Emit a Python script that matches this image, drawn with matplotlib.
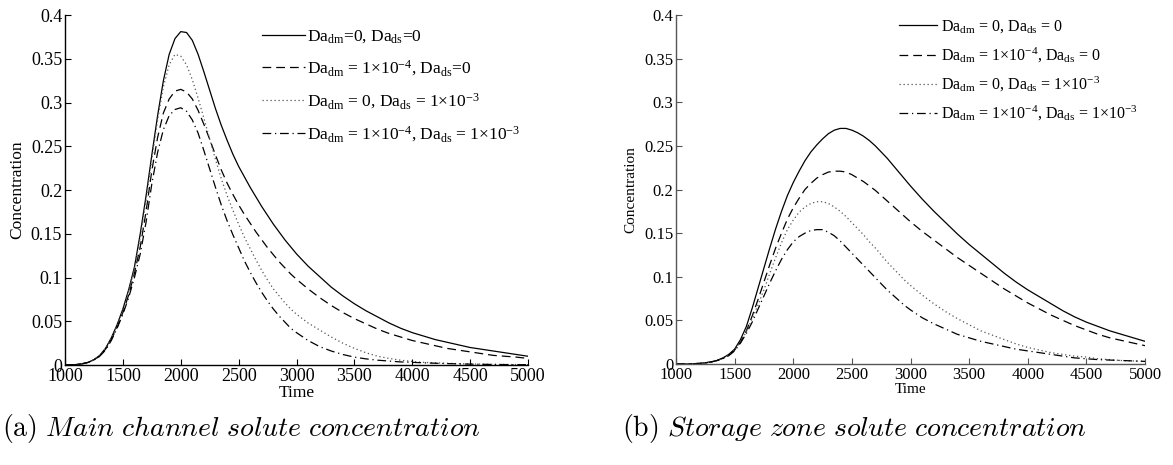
import matplotlib
matplotlib.use("Agg")
import matplotlib.pyplot as plt

# ---------------- data ----------------
time = list(range(1000, 3000, 50)) + list(range(3000, 5001, 100))

# (a) main channel
main_none = [0.0, 0.0002, 0.0006, 0.0015, 0.003, 0.006, 0.011, 0.019, 0.031, 0.046,
             0.064, 0.086, 0.112, 0.150, 0.193, 0.240, 0.285, 0.325, 0.355, 0.373,
             0.381, 0.380, 0.371, 0.355, 0.335, 0.314, 0.293, 0.274, 0.257, 0.241,
             0.227, 0.215, 0.203, 0.192, 0.181, 0.171, 0.161, 0.152, 0.143, 0.135,
             0.127, 0.113, 0.101, 0.089, 0.079, 0.070, 0.062, 0.055, 0.048, 0.042,
             0.037, 0.033, 0.029, 0.026, 0.023, 0.020, 0.018, 0.016, 0.014, 0.012, 0.010]
main_dm = [0.0, 0.0002, 0.0006, 0.0014, 0.003, 0.006, 0.010, 0.018, 0.029, 0.043,
           0.060, 0.080, 0.105, 0.135, 0.175, 0.222, 0.260, 0.288, 0.304, 0.313,
           0.315, 0.312, 0.304, 0.291, 0.275, 0.258, 0.240, 0.223, 0.208, 0.195,
           0.183, 0.172, 0.162, 0.152, 0.143, 0.134, 0.126, 0.118, 0.111, 0.104,
           0.098, 0.087, 0.077, 0.068, 0.060, 0.053, 0.047, 0.041, 0.036, 0.032,
           0.028, 0.025, 0.022, 0.019, 0.017, 0.015, 0.013, 0.011, 0.010, 0.009, 0.0075]
main_ds = [0.0, 0.0002, 0.0006, 0.0015, 0.003, 0.006, 0.011, 0.019, 0.030, 0.045,
           0.063, 0.084, 0.110, 0.146, 0.188, 0.235, 0.280, 0.318, 0.343, 0.355,
           0.353, 0.343, 0.326, 0.305, 0.282, 0.258, 0.235, 0.213, 0.194, 0.177,
           0.161, 0.146, 0.133, 0.120, 0.108, 0.097, 0.087, 0.079, 0.071, 0.064,
           0.058, 0.048, 0.040, 0.032, 0.025, 0.019, 0.014, 0.010, 0.0075, 0.0055,
           0.004, 0.003, 0.0025, 0.002, 0.0015, 0.0012, 0.001, 0.0008, 0.0006, 0.0005, 0.0004]
main_both = [0.0, 0.0002, 0.0006, 0.0014, 0.003, 0.006, 0.010, 0.017, 0.028, 0.042,
             0.058, 0.077, 0.100, 0.127, 0.163, 0.207, 0.243, 0.269, 0.285, 0.292,
             0.294, 0.290, 0.280, 0.265, 0.245, 0.224, 0.203, 0.183, 0.165, 0.149,
             0.134, 0.119, 0.106, 0.094, 0.083, 0.073, 0.064, 0.056, 0.049, 0.042,
             0.037, 0.028, 0.021, 0.016, 0.012, 0.009, 0.007, 0.0055, 0.0045, 0.0035,
             0.003, 0.0025, 0.002, 0.0016, 0.0013, 0.001, 0.0008, 0.0006, 0.0005, 0.0004, 0.0003]

# (b) storage zone
stor_none = [0.0, 0.0, 0.0001, 0.0003, 0.0007, 0.0014, 0.0025, 0.004, 0.007, 0.011,
             0.017, 0.028, 0.043, 0.064, 0.087, 0.110, 0.133, 0.155, 0.175, 0.193,
             0.208, 0.221, 0.233, 0.243, 0.251, 0.258, 0.264, 0.268, 0.270, 0.270,
             0.268, 0.265, 0.261, 0.256, 0.250, 0.243, 0.236, 0.228, 0.220, 0.212,
             0.204, 0.189, 0.175, 0.162, 0.149, 0.137, 0.126, 0.115, 0.104, 0.094,
             0.085, 0.077, 0.069, 0.061, 0.054, 0.048, 0.043, 0.038, 0.034, 0.030, 0.026]
stor_dm = [0.0, 0.0, 0.0001, 0.0003, 0.0007, 0.0013, 0.0023, 0.004, 0.0065, 0.010,
           0.016, 0.025, 0.038, 0.055, 0.074, 0.094, 0.114, 0.133, 0.150, 0.166,
           0.179, 0.190, 0.200, 0.207, 0.213, 0.217, 0.220, 0.221, 0.221, 0.220,
           0.217, 0.213, 0.209, 0.204, 0.199, 0.193, 0.187, 0.181, 0.175, 0.169,
           0.163, 0.152, 0.142, 0.132, 0.122, 0.113, 0.104, 0.095, 0.086, 0.078,
           0.070, 0.063, 0.056, 0.050, 0.044, 0.039, 0.034, 0.030, 0.027, 0.024, 0.021]
stor_ds = [0.0, 0.0, 0.0001, 0.0003, 0.0007, 0.0013, 0.0023, 0.004, 0.0065, 0.010,
           0.016, 0.025, 0.037, 0.052, 0.068, 0.085, 0.104, 0.122, 0.139, 0.154,
           0.165, 0.174, 0.180, 0.184, 0.186, 0.186, 0.184, 0.180, 0.175, 0.169,
           0.162, 0.155, 0.148, 0.140, 0.133, 0.125, 0.117, 0.110, 0.103, 0.096,
           0.090, 0.079, 0.069, 0.060, 0.052, 0.045, 0.038, 0.033, 0.028, 0.023,
           0.019, 0.016, 0.013, 0.011, 0.009, 0.008, 0.006, 0.005, 0.004, 0.0035, 0.003]
stor_both = [0.0, 0.0, 0.0001, 0.0003, 0.0007, 0.0013, 0.0023, 0.004, 0.0062, 0.0095,
             0.015, 0.024, 0.035, 0.048, 0.063, 0.078, 0.093, 0.107, 0.120, 0.131,
             0.140, 0.146, 0.150, 0.153, 0.154, 0.154, 0.151, 0.147, 0.141, 0.134,
             0.127, 0.120, 0.113, 0.106, 0.099, 0.092, 0.085, 0.079, 0.073, 0.067,
             0.062, 0.053, 0.046, 0.040, 0.034, 0.030, 0.026, 0.023, 0.020, 0.017,
             0.015, 0.013, 0.011, 0.009, 0.007, 0.006, 0.005, 0.0045, 0.004, 0.0035, 0.003]

xticks = [1000, 1500, 2000, 2500, 3000, 3500, 4000, 4500, 5000]
yticks = [0, 0.05, 0.1, 0.15, 0.2, 0.25, 0.3, 0.35, 0.4]
ytick_labels = ["0", "0.05", "0.1", "0.15", "0.2", "0.25", "0.3", "0.35", "0.4"]

labels_a = [r"$\mathrm{Da}_{\mathrm{dm}}$=0, $\mathrm{Da}_{\mathrm{ds}}$=0",
            r"$\mathrm{Da}_{\mathrm{dm}}$ = 1$\times$10$^{-4}$, $\mathrm{Da}_{\mathrm{ds}}$=0",
            r"$\mathrm{Da}_{\mathrm{dm}}$ = 0, $\mathrm{Da}_{\mathrm{ds}}$ = 1$\times$10$^{-3}$",
            r"$\mathrm{Da}_{\mathrm{dm}}$ = 1$\times$10$^{-4}$, $\mathrm{Da}_{\mathrm{ds}}$ = 1$\times$10$^{-3}$"]
labels_b = [r"$\mathrm{Da}_{\mathrm{dm}}$ = 0, $\mathrm{Da}_{\mathrm{ds}}$ = 0",
            r"$\mathrm{Da}_{\mathrm{dm}}$ = 1$\times$10$^{-4}$, $\mathrm{Da}_{\mathrm{ds}}$ = 0",
            r"$\mathrm{Da}_{\mathrm{dm}}$ = 0, $\mathrm{Da}_{\mathrm{ds}}$ = 1$\times$10$^{-3}$",
            r"$\mathrm{Da}_{\mathrm{dm}}$ = 1$\times$10$^{-4}$, $\mathrm{Da}_{\mathrm{ds}}$ = 1$\times$10$^{-3}$"]

captions = [r"$\mathrm{(a)}\ \mathit{Main\ channel\ solute\ concentration}$",
            r"$\mathrm{(b)}\ \mathit{Storage\ zone\ solute\ concentration}$"]

# ---------------- style ----------------
plt.rcParams['font.family'] = ['Liberation Serif', 'DejaVu Serif']
plt.rcParams['mathtext.fontset'] = 'custom'
plt.rcParams['mathtext.rm'] = 'Liberation Serif'
plt.rcParams['mathtext.it'] = 'Liberation Serif:italic'

styles = [dict(color='black', linestyle='-', lw=0.9),
          dict(color='black', linestyle=(0, (7, 4)), lw=0.9),
          dict(color='#555555', linestyle=(0, (1, 2.2)), lw=0.9),
          dict(color='black', linestyle=(0, (7, 3, 1, 3)), lw=0.9)]

W, H = 1173, 465
fig = plt.figure(figsize=(W / 100, H / 100), dpi=100)

def frac(l, r, t, b):
    return [l / W, 1 - b / H, (r - l) / W, (b - t) / H]

ax_a = fig.add_axes(frac(65, 528, 15, 365))
ax_b = fig.add_axes(frac(676, 1145, 15, 364))

panels = [
    dict(ax=ax_a, series=[main_none, main_dm, main_ds, main_both], labels=labels_a,
         spcol='black', anchor=(0.4255, 0.962), legfs=12.5, hl=2.5, htp=0.12, ls=0.76,
         tickfs=13, labfs_y=12.5, labfs_x=12.5, ylab_x=(17 - 65) / 463),
    dict(ax=ax_b, series=[stor_none, stor_dm, stor_ds, stor_both], labels=labels_b,
         spcol='#555555', anchor=(0.4755, 0.99), legfs=11.5, hl=2.4, htp=0.25, ls=0.64,
         tickfs=12, labfs_y=11, labfs_x=11, ylab_x=(631 - 676) / 469),
]

for p in panels:
    ax = p['ax']
    for ys, st, lab in zip(p['series'], styles, p['labels']):
        ax.plot(time, ys, label=lab, **st)
    ax.set_xlim(1000, 5000)
    ax.set_ylim(0, 0.4)
    ax.set_xticks(xticks)
    ax.set_xticklabels([str(t) for t in xticks])
    ax.set_yticks(yticks)
    ax.set_yticklabels(ytick_labels)
    ax.tick_params(direction='in', length=4, width=0.8, labelsize=p['tickfs'], pad=2,
                   colors=p['spcol'], labelcolor='black')
    for s in ['top', 'right']:
        ax.spines[s].set_visible(False)
    for s in ['left', 'bottom']:
        ax.spines[s].set_color(p['spcol'])
        ax.spines[s].set_linewidth(1.0)
    ax.set_xlabel('Time', fontsize=p['labfs_x'], labelpad=0)
    ax.set_ylabel('Concentration', fontsize=p['labfs_y'], va='center')
    ax.yaxis.set_label_coords(p['ylab_x'], 0.5)
    ax.legend(loc='upper left', bbox_to_anchor=p['anchor'], frameon=False,
              fontsize=p['legfs'], handlelength=p['hl'], handletextpad=p['htp'],
              labelspacing=p['ls'], borderaxespad=0.0, borderpad=0.0)

fig.text(2 / W, 1 - 428 / H, captions[0], fontsize=20, va='center', ha='left',
         math_fontfamily='cm')
fig.text(622 / W, 1 - 428 / H, captions[1], fontsize=20, va='center', ha='left',
         math_fontfamily='cm')

fig.savefig('out.png', dpi=100)
